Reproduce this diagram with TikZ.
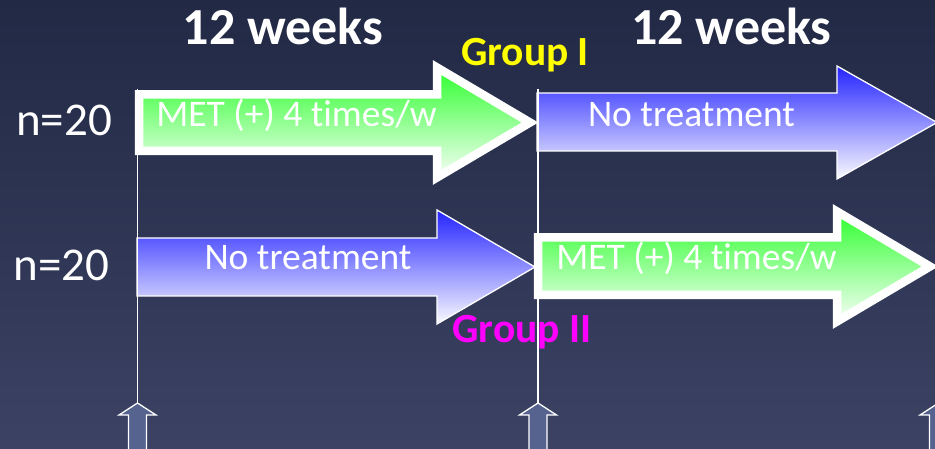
\documentclass[tikz,border=0pt]{standalone}
\usepackage{fontspec}
\setmainfont{Carlito}[Ligatures={NoCommon,NoRare}]
\begin{document}
\begin{tikzpicture}[x=1pt,y=-1pt]
\definecolor{bgtop}{RGB}{34,41,69}
\definecolor{bgbot}{RGB}{59,66,99}
\definecolor{greentop}{RGB}{45,255,45}
\definecolor{greenbot}{RGB}{248,255,248}
\definecolor{bluetop}{RGB}{36,36,255}
\definecolor{bluebot}{RGB}{250,250,255}
\definecolor{markfill}{RGB}{86,99,143}
\definecolor{grpone}{RGB}{255,255,0}
\definecolor{grptwo}{RGB}{255,0,255}
\tikzset{
  metarrow/.style={draw=white, line width=8.5pt, line join=miter,
    top color=greentop, middle color=greentop!42!white, bottom color=greenbot},
  nonearrow/.style={draw=white, line width=1.3pt, line join=miter,
    top color=bluetop, middle color=bluetop!48!white, bottom color=bluebot},
  marker/.style={draw=white, line width=1.3pt, fill=markfill},
  timeline/.style={draw=white, line width=1.3pt},
  title/.style={text=white, inner sep=0pt, anchor=base,
    font=\fontsize{52}{58}\selectfont\bfseries},
  grouplabel/.style={inner sep=0pt, anchor=base,
    font=\fontsize{41.5}{47}\selectfont\bfseries},
  countlabel/.style={text=white, inner sep=0pt, anchor=base,
    font=\fontsize{47}{52}\selectfont},
  armtext/.style={text=white, inner sep=0pt, anchor=base,
    font=\fontsize{37.5}{43}\selectfont},
}
% page and background
\useasboundingbox (0,0) rectangle (935,449);
\clip (0,0) rectangle (935,449);
\shade[top color=bgtop, bottom color=bgbot] (0,0) rectangle (935,449);

% treatment arms, first period
\path[metarrow] (139,94.5) -- (437,94.5) -- (437,67.5) -- (530,122.5)
  -- (437,177.5) -- (437,151) -- (139,151) -- cycle;
\path[nonearrow] (137,238) -- (437,238) -- (437,210) -- (535,267)
  -- (437,324) -- (437,296) -- (137,296) -- cycle;

% treatment arms, second period
\path[nonearrow] (537,93) -- (837,93) -- (837,66) -- (937,122.5)
  -- (837,179) -- (837,151) -- (537,151) -- cycle;
\path[metarrow] (538,237.5) -- (837,237.5) -- (837,211.5) -- (930,266.5)
  -- (837,321.5) -- (837,295) -- (538,295) -- cycle;

% arm texts
\node[armtext] (a1) at (296.5,127) {MET (+) 4 times/w};
\node[armtext] (a2) at (691.5,127) {No treatment};
\node[armtext] (a3) at (308,270) {No treatment};
\node[armtext] (a4) at (696.5,270) {MET (+) 4 times/w};

% headings and labels
\node[title] (w1) at (283,45) {12 weeks};
\node[title] (w2) at (731.5,45) {12 weeks};
\node[grouplabel, text=grpone] (g1) at (525,66) {Group I};
\node[grouplabel, text=grptwo] (g2) at (522,342) {Group II};
\node[countlabel] (n1) at (64,136) {n=20};
\node[countlabel] (n2) at (61.5,281) {n=20};

% time point markers
\foreach \mx/\nm in {137.5/u1, 538/u2, 938.5/u3}{
  \coordinate (\nm) at (\mx,403);
  \path[marker] (\nm) -- ++(18.5,12) -- ++(-9.5,0) -- ++(0,50)
    -- ++(-18,0) -- ++(0,-50) -- ++(-9.5,0) -- cycle;
}

% time lines
\coordinate (t1) at (137.5,89);
\coordinate (t2) at (538,89);
\draw[timeline] (t1) -- (u1);
\draw[timeline] (t2) -- (u2);
\end{tikzpicture}
\end{document}
